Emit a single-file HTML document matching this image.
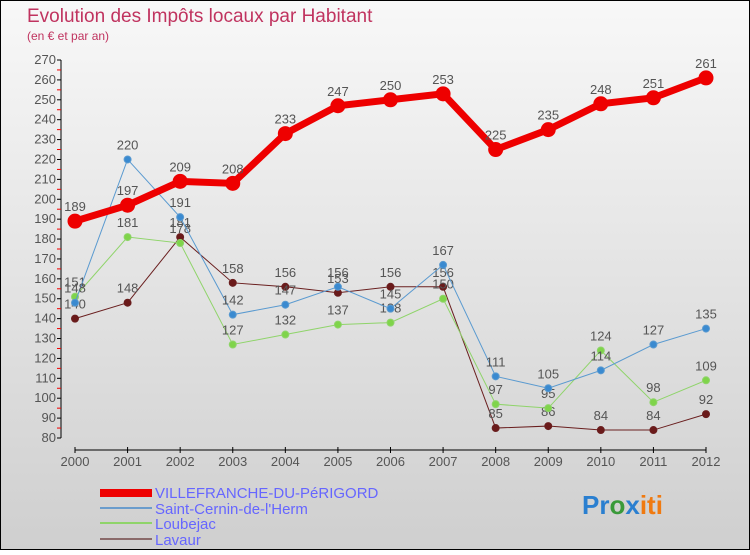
<!DOCTYPE html>
<html><head><meta charset="utf-8"><style>
body{margin:0}
#c{width:750px;height:550px;position:relative;font-family:"Liberation Sans",sans-serif}
</style></head><body>
<div id="c">
<svg width="750" height="550" xmlns="http://www.w3.org/2000/svg" id="svg">
<defs><linearGradient id="bg" x1="0" y1="0" x2="0" y2="1"><stop offset="0" stop-color="#f8f8f8"/><stop offset="1" stop-color="#cfcfcf"/></linearGradient></defs>
<rect x="0.5" y="0.5" width="749" height="549" fill="url(#bg)" stroke="#000"/>
<text x="27" y="22" font-size="19" fill="#c0335f">Evolution des Impôts locaux par Habitant</text>
<text x="27" y="40" font-size="12" fill="#c0335f">(en € et par an)</text>
<g id="axes"></g><g id="plot"></g>
<g>
<rect x="100" y="489" width="52" height="8" fill="#e00"/>
<text x="155" y="498" font-size="15" fill="#66f">VILLEFRANCHE-DU-PéRIGORD</text>
<rect x="100" y="507" width="52" height="2" fill="#6a9ccc"/>
<text x="155" y="514" font-size="15" fill="#66f">Saint-Cernin-de-l'Herm</text>
<rect x="100" y="522" width="52" height="2" fill="#8fd46a"/>
<text x="155" y="529" font-size="15" fill="#66f">Loubejac</text>
<rect x="100" y="538" width="52" height="2" fill="#8a6a6a"/>
<text x="155" y="545" font-size="15" fill="#66f">Lavaur</text>
</g>
<text x="582" y="514" font-size="26" font-weight="bold"><tspan fill="#2a7fd0">Pr</tspan><tspan fill="#3a9a3a">o</tspan><tspan fill="#2a7fd0">x</tspan><tspan fill="#f07a10">iti</tspan></text>
</svg>
</div>
<script>
const years=[2000,2001,2002,2003,2004,2005,2006,2007,2008,2009,2010,2011,2012];
const yTicks=[80,90,100,110,120,130,140,150,160,170,180,190,200,210,220,230,240,250,260,270];
const villefranche=[189,197,209,208,233,247,250,253,225,235,248,251,261];
const saintCernin=[148,220,191,142,147,156,145,167,111,105,114,127,135];
const loubejac=[151,181,178,127,132,137,138,150,97,95,124,98,109];
const lavaur=[140,148,181,158,156,153,156,156,85,86,84,84,92];
const NS="http://www.w3.org/2000/svg";
function X(i){return 75+i*(706-75)/(years.length-1);}
function Y(v){return 438-(v-80)*(438-60)/190;}
function mk(t,a,p){const e=document.createElementNS(NS,t);for(const k in a)e.setAttribute(k,a[k]);p.appendChild(e);return e;}
const ax=document.getElementById('axes'),pl=document.getElementById('plot');
let l=mk('line',{x1:61,y1:Y(270),x2:61,y2:Y(80),stroke:'#000'},ax);


yTicks.forEach(v=>{mk('line',{x1:57,x2:61,y1:Y(v),y2:Y(v),stroke:'#000'},ax);
 if(v<270)mk('line',{x1:57,x2:61,y1:Y(v+5),y2:Y(v+5),stroke:'#e00'},ax);
 const t=mk('text',{x:56,y:Y(v)+4,'font-size':13,fill:'#555','text-anchor':'end'},ax);t.textContent=v;
 
 });
l=mk('line',{x1:X(0),x2:X(12),y1:450,y2:450,stroke:'#000'},ax);


years.forEach((y,i)=>{mk('line',{x1:X(i),x2:X(i),y1:447,y2:453,stroke:'#000'},ax);
 const t=mk('text',{x:X(i),y:466,'font-size':13,fill:'#555','text-anchor':'middle'},ax);t.textContent=y;
 
 });
function series(d,name,col,fill,w,r){
 const g=mk('g',{},pl);
 
 
 mk('polyline',{points:d.map((v,i)=>X(i)+','+Y(v)).join(' '),fill:'none',stroke:col,'stroke-width':w},g);
 d.forEach((v,i)=>{const c=mk('circle',{cx:X(i),cy:Y(v),r:r,fill:fill,stroke:col,'stroke-width':1},g);
  
  
  const t=mk('text',{x:X(i),y:Y(v)-10,'font-size':13,fill:'#555','text-anchor':'middle'},g);t.textContent=v;
  
  });
}
series(lavaur,'lavaur','#6a1f1f','#6a1a1a',1,3.5);
series(loubejac,'loubejac','#8fd46a','#7fd44a',1,3.5);
series(saintCernin,'saint-cernin','#5a9ad0','#3a8ad0',1,3.5);
series(villefranche,'villefranche','#e00','#e00',7,7);
</script>
</body></html>
